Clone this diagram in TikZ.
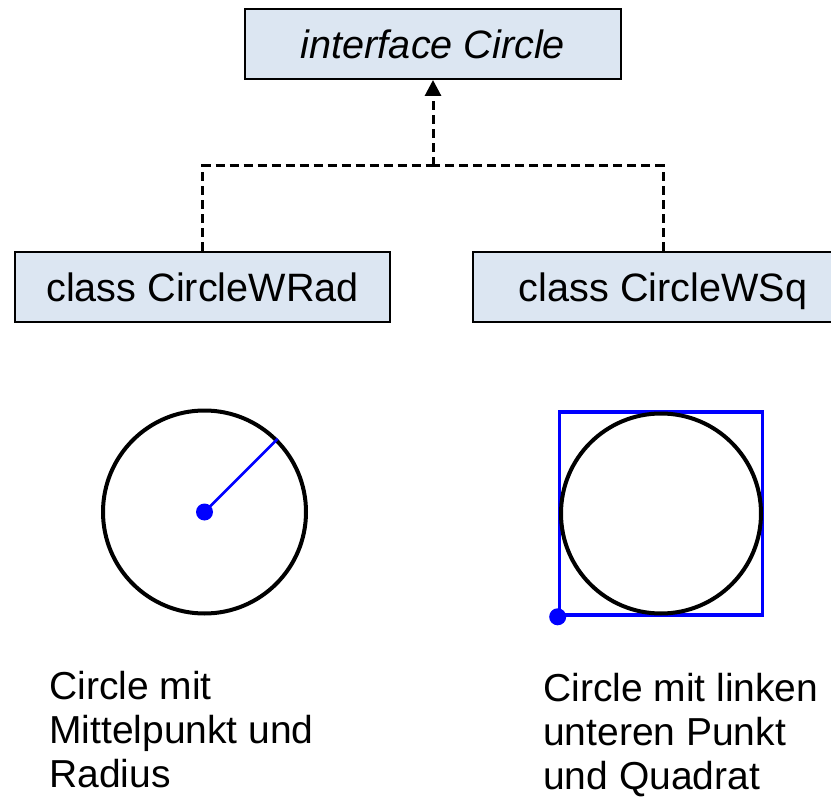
\documentclass[tikz,border=0pt]{standalone}
\usepackage{fontspec}
\setmainfont{Liberation Sans}
\usetikzlibrary{arrows.meta}
\definecolor{boxfill}{HTML}{DCE6F2}
\definecolor{myblue}{HTML}{0000FF}
\tikzset{
  umlbox/.style={draw=black, line width=2pt, fill=boxfill, rectangle, minimum height=70, inner sep=0pt,
    text height=33pt, text depth=4pt, font=\fontsize{39.6}{46}\selectfont},
  realize/.style={draw=black, line width=3pt, dash pattern=on 9pt off 5pt},
  desc/.style={align=left, inner sep=0pt, font=\fontsize{39}{44}\selectfont},
  shapeline/.style={line width=4pt},
}
\begin{document}
\begin{tikzpicture}[x=1pt,y=-1pt]
\useasboundingbox (0,0) rectangle (831,797);
\clip (0,0) rectangle (831,797);
\fill[white] (0,0) rectangle (831,797);
% boxes
\node[umlbox, minimum width=376] (iface) at (433,44) {\itshape interface Circle};
\node[umlbox, minimum width=375] (rad) at (202.5,287) {class CircleWRad};
\node[umlbox, minimum width=380] (sq) at (663,287) {class CircleWSq};
\coordinate (join) at (433,166);
% connectors
\draw[realize] (rad.north) |- (join);
\draw[realize] (sq.north) |- (join);
\draw[realize, -{Triangle[width=16pt,length=16pt]}] (join) -- (iface.south);
% left figure
\node[circle, draw=black, shapeline, minimum size=203, inner sep=0pt] (c1) at (204.5,512) {};
\draw[myblue, line width=2.8pt] (c1.center) -- (c1.45);
\fill[myblue] (c1.center) circle (8.5);
% right figure
\node[rectangle, draw=myblue, line width=3.6pt, minimum size=203, inner sep=0pt] (square) at (661,513.5) {};
\node[circle, draw=black, shapeline, minimum size=200, inner sep=0pt] (c2) at (square.center) {};
\fill[myblue] (square.south west) circle (8.5);
% descriptions
\node[desc, anchor=north west] (t1) at (49,671) {Circle mit\\Mittelpunkt und\\Radius};
\node[desc, anchor=north west] (t2) at (543,673) {Circle mit linken\\unteren Punkt\\und Quadrat};
\end{tikzpicture}
\end{document}
